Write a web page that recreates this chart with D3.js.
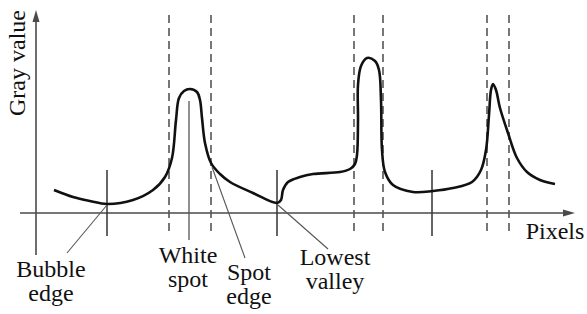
<!DOCTYPE html>
<html>
 <head>
    <script src="https://d3js.org/d3.v7.min.js"></script>
 </head>
 <body style="margin:0">
    <script>
        // profile: pixel position along the line, gray value
        var profilePx   = [18, 37, 54, 71, 97, 117, 129, 136, 140, 143, 148, 154, 161, 164, 166, 169, 175, 184, 194, 217, 241,
                           245, 247, 252, 264, 277, 304, 314, 319, 321, 322, 322, 325, 331, 339, 343, 345, 346, 349, 357, 377,
                           397, 417, 436, 445, 450, 453, 455, 457, 460, 464, 472, 481, 491, 504, 519];
        var profileGray = [11.5, 8, 6, 4.5, 6.5, 11.5, 18, 27.5, 46.5, 57.5, 61, 62, 60.5, 56.5, 47.5, 35, 25, 19.5, 15.5, 10, 5,
                           6.5, 11.5, 15.5, 18, 19.5, 20.5, 22, 24.5, 29, 46.5, 64, 73.5, 77.5, 76, 71.5, 56.5, 31.5, 20.5, 14, 10.5,
                           11, 12.5, 15.5, 21.5, 31.5, 49, 61.5, 64.5, 61.5, 52.5, 40, 27.5, 20.5, 16.5, 14.5];

        var spotBounds   = [133, 175, 318, 347, 451, 473];  // dashed lines
        var segmentMarks = [71, 241, 396];                   // solid ticks
        var spotCenter   = 153;

        var yTitle = "Gray value";
        var xTitle = "Pixels";
        var labelLines = [["Bubble", "edge"], ["White", "spot"], ["Spot", "edge"], ["Lowest", "valley"]];

        var W = 587, H = 314;
        var serifFam = "'Liberation Serif', Tinos, 'Times New Roman', serif";
        var x = d3.scaleLinear().domain([0, 540]).range([36, 576]);
        var y = d3.scaleLinear().domain([0, 100]).range([213, 13]);

        var svg = d3.select("body").append("svg").attr("width", W).attr("height", H)
            .style("display", "block").style("font-family", serifFam);

        var axisCol = "#4a4a4a";

        // axes
        svg.append("line").attr("x1", x(-16)).attr("x2", x(534)).attr("y1", y(0)).attr("y2", y(0))
            .attr("stroke", axisCol).attr("stroke-width", 1.6);
        svg.append("line").attr("x1", x(0)).attr("x2", x(0)).attr("y1", y(-21)).attr("y2", y(97))
            .attr("stroke", axisCol).attr("stroke-width", 1.6);
        // arrow heads
        var ax = x(539), ay = y(0);
        svg.append("path").attr("d", `M${ax},${ay} L${ax - 12},${ay - 3.5} L${ax - 12},${ay + 3.5} Z`).attr("fill", axisCol);
        var vx = x(0), vy = y(101.5);
        svg.append("path").attr("d", `M${vx},${vy} L${vx - 3.5},${vy + 12} L${vx + 3.5},${vy + 12} Z`).attr("fill", axisCol);

        // dashed spot boundaries
        svg.selectAll(".dash").data(spotBounds).enter().append("line")
            .attr("x1", d => x(d)).attr("x2", d => x(d))
            .attr("y1", y(99)).attr("y2", y(-11))
            .attr("stroke", "#555").attr("stroke-width", 1.6).attr("stroke-dasharray", "8,5");

        // solid ticks
        svg.selectAll(".tick").data(segmentMarks).enter().append("line")
            .attr("x1", d => x(d)).attr("x2", d => x(d))
            .attr("y1", y(21.5)).attr("y2", y(-11.5))
            .attr("stroke", "#333").attr("stroke-width", 1.5);

        // white spot centre
        svg.append("line").attr("x1", x(spotCenter)).attr("x2", x(spotCenter))
            .attr("y1", y(56)).attr("y2", y(-13.5))
            .attr("stroke", "#555").attr("stroke-width", 1.3);

        // profile curve
        var data = profilePx.map((p, i) => [x(p), y(profileGray[i])]);
        svg.append("path").attr("d", d3.line().curve(d3.curveCatmullRom.alpha(0.5))(data))
            .attr("fill", "none").attr("stroke", "#111").attr("stroke-width", 2.6).attr("stroke-linejoin", "round");

        // leader lines
        var leaders = [[[107, 205], [67, 253]], [[212, 167], [245, 258]], [[278, 205], [328, 249]]];
        leaders.forEach(l => {
            svg.append("line").attr("x1", l[0][0]).attr("y1", l[0][1]).attr("x2", l[1][0]).attr("y2", l[1][1])
                .attr("stroke", "#555").attr("stroke-width", 1.1);
        });

        // centred text without text-anchor: measure, then shift
        function centred(g, cx, cy, s) {
            var t = g.append("text").attr("y", cy).attr("font-family", serifFam)
                .attr("font-size", "24px").attr("fill", "#111").text(s);
            var w = t.node().getComputedTextLength();
            t.attr("x", cx - w / 2);
            return t;
        }

        var labelPos = [[51, 277], [188, 263], [249, 280], [335, 265]];
        labelLines.forEach((lines, i) => {
            lines.forEach((s, j) => centred(svg, labelPos[i][0], labelPos[i][1] + j * 24, s));
        });

        centred(svg, 555, 239, xTitle);

        var yg = svg.append("g").attr("transform", "translate(25,63) rotate(-90)");
        centred(yg, 0, 0, yTitle);
    </script>
 </body>
</html>
